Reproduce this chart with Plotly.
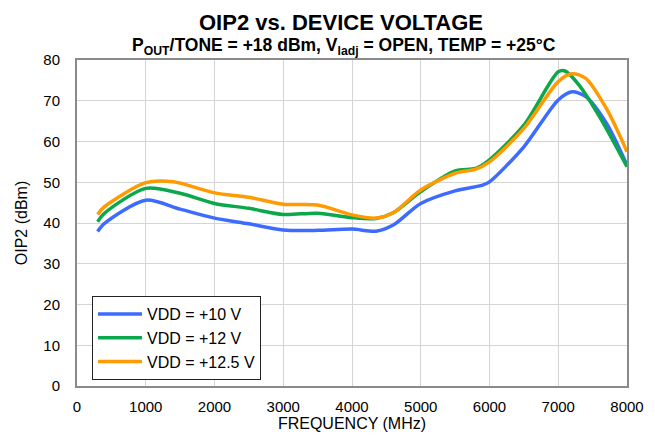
import plotly.graph_objects as go

freq_10 = [300, 400, 1000, 1500, 2000, 2500, 3000, 3500, 4000, 4350, 4600, 5000, 5500, 5900, 6000, 6500, 7000, 7200, 7400, 7700, 8000]
oip2_10 = [37.9, 39.9, 45.6, 43.4, 41.2, 39.8, 38.3, 38.2, 38.5, 38.0, 39.5, 44.8, 47.9, 49.3, 50.1, 58.7, 70.2, 72.2, 71.0, 64.5, 54.2]

freq_12 = [300, 400, 1000, 1500, 2000, 2500, 3000, 3500, 4000, 4350, 4600, 5000, 5500, 5800, 6000, 6500, 7000, 7100, 7300, 7600, 8000]
oip2_12 = [40.3, 42.4, 48.5, 47.3, 44.8, 43.6, 42.1, 42.4, 41.3, 41.1, 42.5, 47.7, 52.8, 53.4, 55.5, 64.0, 77.1, 77.3, 73.9, 66.1, 53.8]

freq_125 = [300, 400, 1000, 1400, 2000, 2500, 3000, 3500, 4000, 4350, 4600, 5000, 5500, 5800, 6000, 6500, 7000, 7200, 7400, 7700, 8000]
oip2_125 = [42.1, 44.0, 49.9, 50.1, 47.4, 46.3, 44.6, 44.4, 42.0, 41.2, 42.5, 48.1, 52.2, 53.2, 55.0, 63.2, 74.7, 76.6, 75.5, 68.1, 57.5]

series = [
    ("VDD = +10 V", freq_10, oip2_10, "#3D6BFF"),
    ("VDD = +12 V", freq_12, oip2_12, "#0AA84A"),
    ("VDD = +12.5 V", freq_125, oip2_125, "#FF9A00"),
]

x_ticks = [0, 1000, 2000, 3000, 4000, 5000, 6000, 7000, 8000]
y_ticks = [0, 10, 20, 30, 40, 50, 60, 70, 80]

FONT = "Liberation Sans, Arial, sans-serif"

fig = go.Figure()
for name, x, y, c in series:
    fig.add_trace(go.Scatter(x=x, y=y, name=name, mode="lines",
                             line=dict(color=c, width=3.5, shape="spline", smoothing=0.8)))

W, H = 655, 436
L, R, T, B = 77, 28, 60, 50
PW, PH = W - L - R, H - T - B

fig.update_layout(
    width=W, height=H,
    margin=dict(l=L, r=R, t=T, b=B, autoexpand=False),
    paper_bgcolor="white", plot_bgcolor="white",
    font=dict(family=FONT, color="black", size=15),
    showlegend=True,
    legend=dict(x=(92 - L) / PW, y=(386 - 296) / PH, xanchor="left", yanchor="top",
                bgcolor="white", bordercolor="#222", borderwidth=1,
                font=dict(size=16, family=FONT), tracegroupgap=0,
                itemwidth=44),
    xaxis=dict(range=[0, 8000], tickvals=x_ticks, showgrid=True, gridcolor="#D4D4D4", gridwidth=1,
               showline=True, linecolor="#8A8A8A", linewidth=2, mirror=True, zeroline=False,
               ticks="", tickfont=dict(size=15), automargin=False, ticklabelstandoff=6,
               title=dict(text="FREQUENCY (MHz)", font=dict(size=16), standoff=4)),
    yaxis=dict(range=[0, 80], tickvals=y_ticks, showgrid=True, gridcolor="#D4D4D4", gridwidth=1,
               showline=True, linecolor="#8A8A8A", linewidth=2, mirror=True, zeroline=False,
               ticks="", tickfont=dict(size=15), automargin=False, ticklabelstandoff=12,
               title=dict(text="OIP2 (dBm)", font=dict(size=16), standoff=12)),
    annotations=[
        dict(text="<b>OIP2 vs. DEVICE VOLTAGE</b>", xref="paper", yref="paper",
             x=(341 - L) / PW, y=1 + (60 - 22) / PH, xanchor="center", yanchor="middle",
             showarrow=False, font=dict(size=22, family=FONT)),
        dict(text="<b>P<sub>OUT</sub>/TONE = +18 dBm, V<sub>ladj</sub> = OPEN, TEMP = +25°C</b>",
             xref="paper", yref="paper",
             x=(344 - L) / PW, y=1 + (60 - 46) / PH, xanchor="center", yanchor="middle",
             showarrow=False, font=dict(size=17.5, family=FONT)),
    ],
)

fig.write_html("out.html", config={"displayModeBar": False},
               post_script="document.body.style.margin='0';document.body.style.overflow='hidden';")
